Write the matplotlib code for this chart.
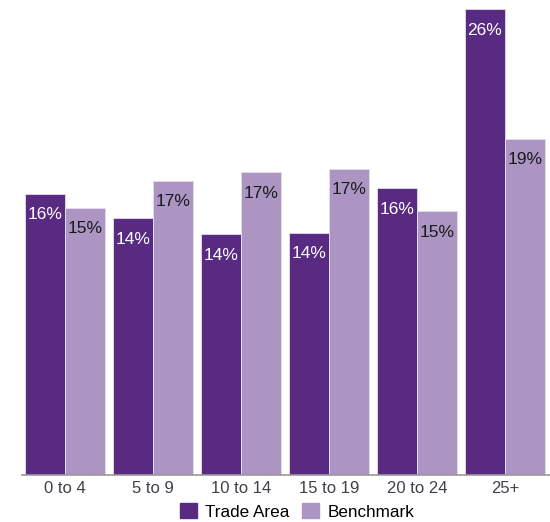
import matplotlib
matplotlib.use("Agg")
import matplotlib.pyplot as plt
import numpy as np
from matplotlib.patches import Patch

categories = ["0 to 4", "5 to 9", "10 to 14", "15 to 19", "20 to 24", "25+"]
trade_area = [15.9, 14.5, 13.6, 13.7, 16.2, 26.3]
benchmark = [15.1, 16.6, 17.1, 17.3, 14.9, 19.0]
series_names = ["Trade Area", "Benchmark"]

c_trade = "#582A81"
c_bench = "#AC95C3"

plt.rcParams['font.family'] = ['Liberation Sans', 'DejaVu Sans']

fig = plt.figure(figsize=(5.5, 5.22), dpi=100)
ax = fig.add_axes([22/550, 47/522, 1 - 22/550, 475/522])

x = np.arange(len(categories))
w = 40/88
b1 = ax.bar(x - w/2, trade_area, w, color=c_trade, edgecolor="#E6DDF0", linewidth=0.6)
b2 = ax.bar(x + w/2, benchmark, w, color=c_bench, edgecolor="#E6DDF0", linewidth=0.6)

for rect, v in zip(b1, trade_area):
    ax.text(rect.get_x() + rect.get_width()/2, v - 0.75, f"{round(v):d}%",
            ha="center", va="top", color="white", fontsize=12.5)
for rect, v in zip(b2, benchmark):
    ax.text(rect.get_x() + rect.get_width()/2, v - 0.75, f"{round(v):d}%",
            ha="center", va="top", color="#1a1a1a", fontsize=12.5)

ax.set_xlim(-43/88, (550-65)/88)
ax.set_ylim(0, 475/17.7)
ax.set_xticks(x)
ax.set_xticklabels(categories, fontsize=12, color="#40404a")
ax.tick_params(axis="x", length=0, pad=4)
ax.set_yticks([])
for s in ["top", "right", "left"]:
    ax.spines[s].set_visible(False)
ax.spines["bottom"].set_color("#999999")
ax.spines["bottom"].set_linewidth(1.2)

handles = [Patch(color=c_trade), Patch(color=c_bench)]
fig.legend(handles, series_names, loc="lower center", bbox_to_anchor=(0.54, -0.025),
           ncol=2, frameon=False, fontsize=12.3, handlelength=1.0, handleheight=1.0,
           handletextpad=0.5, columnspacing=0.7)

fig.savefig("out.png", dpi=100)
